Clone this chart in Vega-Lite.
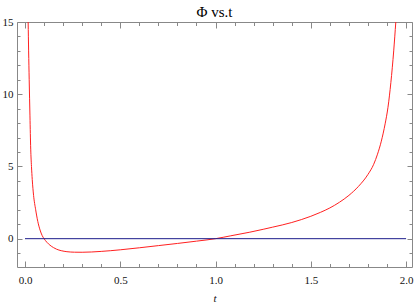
{
  "$schema": "https://vega.github.io/schema/vega-lite/v6.json",
  "width": 395,
  "height": 245,
  "autosize": "none",
  "padding": {"left": 17, "top": 22, "right": 2, "bottom": 39},
  "title": {"text": "Φ vs.t", "font": "serif", "fontSize": 15, "fontWeight": "normal", "color": "#000", "offset": -4, "anchor": "middle"},
  "config": {
    "view": {"stroke": null},
    "axis": {"grid": false, "domainColor": "#888", "tickColor": "#888", "domainWidth": 1, "tickWidth": 1, "labelFont": "serif", "labelFontSize": 11, "labelColor": "#111", "titleFont": "serif", "titleColor": "#111", "titleFontWeight": "normal"}
  },
  "resolve": {"axis": {"x": "independent", "y": "independent"}},
  "layer": [
    {
      "data": {"values": [
        {"t": 0.0165, "phi": 15}, {"t": 0.019, "phi": 13}, {"t": 0.022, "phi": 11}, {"t": 0.026, "phi": 8.5},
        {"t": 0.030, "phi": 6.2}, {"t": 0.034, "phi": 5.0}, {"t": 0.038, "phi": 4.1}, {"t": 0.045, "phi": 3.0},
        {"t": 0.056, "phi": 2.0}, {"t": 0.067, "phi": 1.2}, {"t": 0.079, "phi": 0.6}, {"t": 0.090, "phi": 0.22},
        {"t": 0.100, "phi": 0}, {"t": 0.115, "phi": -0.25}, {"t": 0.131, "phi": -0.45}, {"t": 0.150, "phi": -0.62},
        {"t": 0.166, "phi": -0.73}, {"t": 0.19, "phi": -0.83}, {"t": 0.22, "phi": -0.9}, {"t": 0.26, "phi": -0.935},
        {"t": 0.30, "phi": -0.94}, {"t": 0.35, "phi": -0.92}, {"t": 0.40, "phi": -0.88}, {"t": 0.45, "phi": -0.83},
        {"t": 0.50, "phi": -0.77}, {"t": 0.60, "phi": -0.63}, {"t": 0.70, "phi": -0.48}, {"t": 0.80, "phi": -0.33},
        {"t": 0.90, "phi": -0.17}, {"t": 1.00, "phi": 0.0}, {"t": 1.08, "phi": 0.2}, {"t": 1.18, "phi": 0.45},
        {"t": 1.25, "phi": 0.65}, {"t": 1.30, "phi": 0.80}, {"t": 1.35, "phi": 0.95}, {"t": 1.40, "phi": 1.12},
        {"t": 1.45, "phi": 1.32}, {"t": 1.50, "phi": 1.55}, {"t": 1.55, "phi": 1.82}, {"t": 1.60, "phi": 2.13},
        {"t": 1.65, "phi": 2.52}, {"t": 1.70, "phi": 3.0}, {"t": 1.75, "phi": 3.62}, {"t": 1.80, "phi": 4.45},
        {"t": 1.83, "phi": 5.15}, {"t": 1.85, "phi": 5.85}, {"t": 1.87, "phi": 6.75}, {"t": 1.89, "phi": 7.95},
        {"t": 1.905, "phi": 9.1}, {"t": 1.92, "phi": 10.8}, {"t": 1.935, "phi": 13.0}, {"t": 1.946, "phi": 15}
      ]},
      "mark": {"type": "line", "color": "#ff2020", "strokeWidth": 1, "interpolate": "monotone", "clip": true},
      "encoding": {
        "x": {
          "field": "t", "type": "quantitative",
          "scale": {"domain": [-0.042, 2.031], "nice": false, "zero": false},
          "axis": {
            "orient": "bottom",
            "values": [0, 0.1, 0.2, 0.3, 0.4, 0.5, 0.6, 0.7, 0.8, 0.9, 1.0, 1.1, 1.2, 1.3, 1.4, 1.5, 1.6, 1.7, 1.8, 1.9, 2.0],
            "tickSize": {"condition": {"test": "abs(datum.value*2 - round(datum.value*2)) < 0.001", "value": -6}, "value": -3.5},
            "labelExpr": "abs(datum.value*2 - round(datum.value*2)) < 0.001 ? format(datum.value, '.1f') : ''",
            "labelFont": "Liberation Serif",
            "labelFontSize": 11,
            "labelPadding": 13,
            "labelFlush": false,
            "labelOverlap": false,
            "title": "t",
            "titleFont": "Liberation Serif",
            "titleFontStyle": "italic",
            "titleFontSize": 11,
            "titlePadding": 5
          }
        },
        "y": {
          "field": "phi", "type": "quantitative",
          "scale": {"domain": [-1.96, 15], "nice": false, "zero": false},
          "axis": {
            "orient": "left",
            "values": [-1, 0, 1, 2, 3, 4, 5, 6, 7, 8, 9, 10, 11, 12, 13, 14, 15],
            "tickSize": {"condition": {"test": "datum.value % 5 == 0", "value": -5}, "value": -3},
            "labelExpr": "datum.value % 5 == 0 ? format(datum.value, 'd') : ''",
            "labelFont": "Liberation Serif",
            "labelFontSize": 11,
            "labelPadding": 9,
            "labelFlush": false,
            "labelOverlap": false,
            "title": null
          }
        }
      }
    },
    {
      "data": {"values": [{"t": 0, "phi": 0}, {"t": 2, "phi": 0}]},
      "mark": {"type": "line", "color": "#1c1c8c", "strokeWidth": 1},
      "encoding": {
        "x": {
          "field": "t", "type": "quantitative",
          "axis": {
            "orient": "top",
            "values": [0, 0.1, 0.2, 0.3, 0.4, 0.5, 0.6, 0.7, 0.8, 0.9, 1.0, 1.1, 1.2, 1.3, 1.4, 1.5, 1.6, 1.7, 1.8, 1.9, 2.0],
            "tickSize": {"condition": {"test": "abs(datum.value*2 - round(datum.value*2)) < 0.001", "value": -6}, "value": -3.5},
            "labels": false,
            "title": null
          }
        },
        "y": {
          "field": "phi", "type": "quantitative",
          "axis": {
            "orient": "right",
            "values": [-1, 0, 1, 2, 3, 4, 5, 6, 7, 8, 9, 10, 11, 12, 13, 14, 15],
            "tickSize": {"condition": {"test": "datum.value % 5 == 0", "value": -5}, "value": -3},
            "labels": false,
            "title": null
          }
        }
      }
    }
  ]
}
